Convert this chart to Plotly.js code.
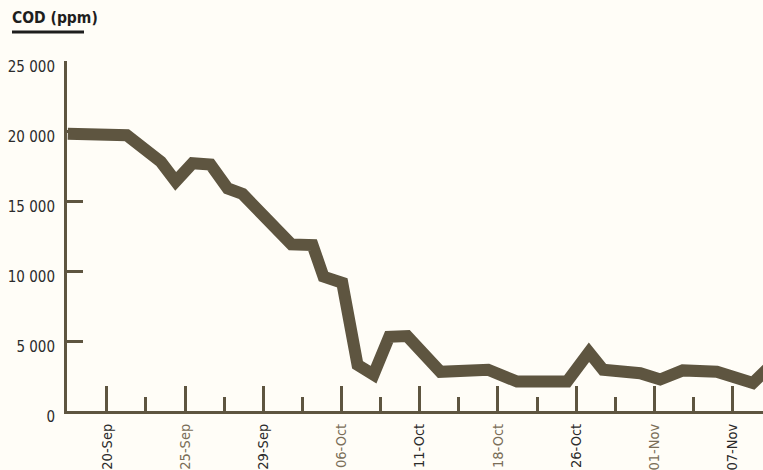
<!DOCTYPE html>
<html>
<head>
<meta charset="utf-8">
<script src="https://cdn.plot.ly/plotly-3.0.1.min.js"></script>
<style>html,body{margin:0;padding:0;background:#fffdf7;}#chart{width:763px;height:470px;}</style>
</head>
<body>
<div id="chart"></div>
<script>
// Positions along the x axis (in label-slot units) and COD values
const xPos = [1.00, 2.51, 3.38, 3.76, 4.19, 4.65, 5.09, 5.47, 6.72, 7.26, 7.54, 8.02, 8.41, 8.82, 9.22, 9.68, 10.53, 11.75, 12.49, 13.77, 14.33, 14.69, 15.64, 16.15, 16.73, 17.60, 18.52, 19.00];
const codValues = [19800, 19700, 17800, 16400, 17700, 17600, 15900, 15500, 11900, 11850, 9600, 9150, 3300, 2600, 5300, 5350, 2800, 2950, 2100, 2100, 4200, 2950, 2700, 2250, 2900, 2800, 2000, 3300];
const tickPositions = [2, 4, 6, 8, 10, 12, 14, 16, 18];
const tickLabels = ["20-Sep", "25-Sep", "29-Sep", "06-Oct", "11-Oct", "18-Oct", "26-Oct", "01-Nov", "07-Nov"];
const minorPositions = [3, 5, 7, 9, 11, 13, 15, 17];
const yTicks = [0, 5000, 10000, 15000, 20000, 25000];
const yTickLabels = ["0", "5 000", "10 000", "15 000", "20 000", "25 000"];

const dark = "#5e5540";
const font = "'DejaVu Sans Condensed', 'DejaVu Sans', sans-serif";
const labelColors = ["#2b2b2b", "#7a6e58"];
const xText = tickLabels.map((t, i) => `<span style="color:${labelColors[i % 2]}">${t}</span>`);

const trace = {
  x: xPos, y: codValues, type: "scatter", mode: "lines",
  line: {color: dark, width: 12},
  hoverinfo: "skip"
};

const layout = {
  width: 763, height: 470,
  paper_bgcolor: "#fffdf7", plot_bgcolor: "#fffdf7",
  margin: {l: 67, r: 0, t: 61, b: 59},
  showlegend: false,
  title: {
    text: "<b>COD (ppm)</b>",
    font: {family: font, size: 15.5, color: "#1e1e1e", stretch: "condensed"},
    xref: "container", yref: "container",
    x: 12/763, xanchor: "left", y: 1 - 18/470, yanchor: "middle"
  },
  xaxis: {
    range: [0.98, 18.78], showgrid: false, zeroline: false,
    showline: true, linecolor: dark, linewidth: 3,
    tickmode: "array", tickvals: tickPositions, ticktext: xText,
    ticks: "inside", ticklen: 25, tickwidth: 3, tickcolor: dark,
    tickangle: -90, tickfont: {family: font, size: 14.5, color: "#2b2b2b", stretch: "condensed"},
    ticklabelstandoff: 4,
    minor: {tickmode: "array", tickvals: minorPositions, ticks: "inside", ticklen: 14, tickwidth: 3, tickcolor: dark, showgrid: false},
    fixedrange: true
  },
  yaxis: {
    range: [0, 25000], showgrid: false, zeroline: false,
    showline: true, linecolor: dark, linewidth: 3,
    tickmode: "array", tickvals: yTicks, ticktext: yTickLabels,
    ticks: "inside", ticklen: 16, tickwidth: 3, tickcolor: dark,
    tickfont: {family: font, size: 15, color: "#2b2b2b", stretch: "condensed"},
    ticklabelstandoff: 6, ticklabelshift: 6,
    fixedrange: true
  },
  shapes: []
};
// underline under the title, placed at 32px from top
const yUnder = (411 - 32) / 350;
layout.shapes.push({
  type: "line", xref: "paper", yref: "paper",
  x0: (12-67)/696, x1: (84-67)/696, y0: yUnder, y1: yUnder,
  line: {color: "#1e1e1e", width: 3}
});

Plotly.newPlot("chart", [trace], layout, {displayModeBar: false, staticPlot: true});
</script>
</body>
</html>
